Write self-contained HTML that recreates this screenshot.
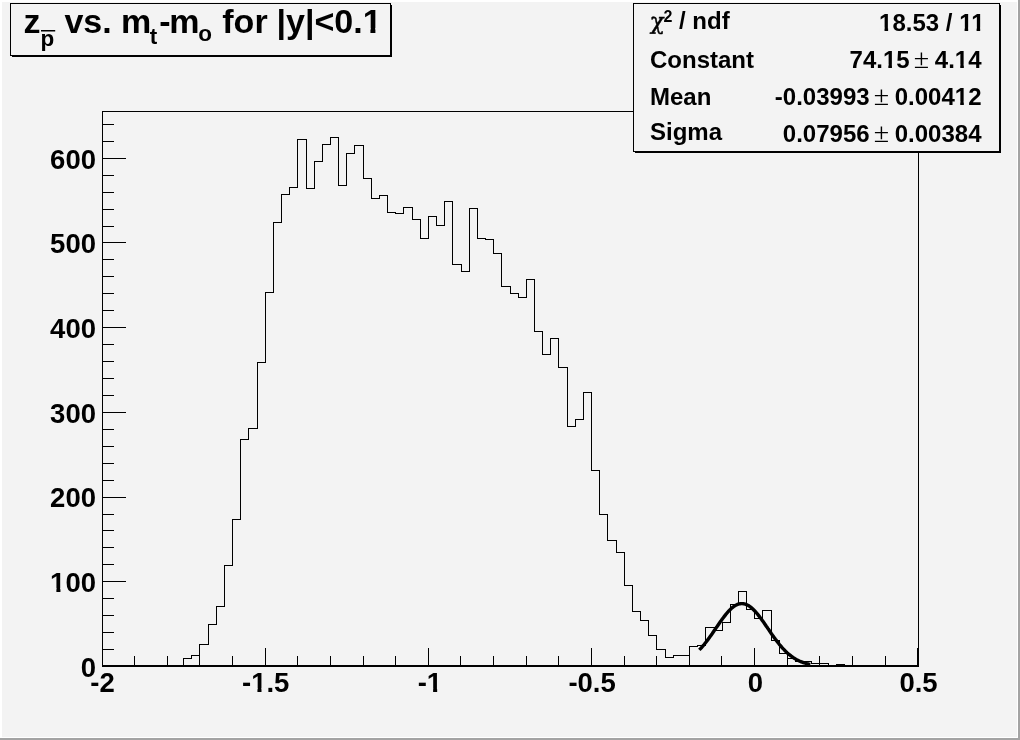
<!DOCTYPE html>
<html><head><meta charset="utf-8"><title>z_pbar vs. mt-mo for |y|&lt;0.1</title>
<style>
html,body{margin:0;padding:0;background:#f3f3f3;}
body{width:1020px;height:740px;overflow:hidden;}
svg{display:block;will-change:transform;font-family:"Liberation Sans",sans-serif;font-weight:bold;fill:#000;}
.sym{font-family:"DejaVu Serif","Liberation Serif",serif;font-weight:normal;}
.pm{font-family:"Liberation Serif",serif;font-weight:normal;}
</style></head><body>
<svg width="1020" height="740" viewBox="0 0 1020 740">
<!-- canvas with bevel border -->
<rect x="0" y="0" width="1020" height="740" fill="#f3f3f3"/>
<g shape-rendering="crispEdges">
<rect x="0" y="0" width="1020" height="2" fill="#ffffff"/>
<rect x="0" y="0" width="2" height="740" fill="#ffffff"/>
<rect x="0" y="737" width="1018" height="1" fill="#ffffff"/>
<rect x="1017" y="0" width="1" height="738" fill="#ffffff"/>
<rect x="0" y="738" width="1020" height="2" fill="#a3a3a3"/>
<rect x="1018" y="0" width="2" height="740" fill="#a3a3a3"/>
</g>

<!-- frame -->
<g shape-rendering="crispEdges" stroke="#000" stroke-width="1" fill="none">
<line x1="102.5" y1="111" x2="102.5" y2="667"/>
<line x1="918.5" y1="111" x2="918.5" y2="667"/>
<line x1="102" y1="111.5" x2="919" y2="111.5"/>
<line x1="102" y1="666" x2="919" y2="666" stroke-width="2"/>
<line x1="102.5" y1="665" x2="102.5" y2="648"/>
<line x1="134.5" y1="665" x2="134.5" y2="656"/>
<line x1="167.5" y1="665" x2="167.5" y2="656"/>
<line x1="199.5" y1="665" x2="199.5" y2="656"/>
<line x1="232.5" y1="665" x2="232.5" y2="656"/>
<line x1="265.5" y1="665" x2="265.5" y2="648"/>
<line x1="297.5" y1="665" x2="297.5" y2="656"/>
<line x1="330.5" y1="665" x2="330.5" y2="656"/>
<line x1="363.5" y1="665" x2="363.5" y2="656"/>
<line x1="395.5" y1="665" x2="395.5" y2="656"/>
<line x1="428.5" y1="665" x2="428.5" y2="648"/>
<line x1="460.5" y1="665" x2="460.5" y2="656"/>
<line x1="493.5" y1="665" x2="493.5" y2="656"/>
<line x1="526.5" y1="665" x2="526.5" y2="656"/>
<line x1="558.5" y1="665" x2="558.5" y2="656"/>
<line x1="591.5" y1="665" x2="591.5" y2="648"/>
<line x1="624.5" y1="665" x2="624.5" y2="656"/>
<line x1="656.5" y1="665" x2="656.5" y2="656"/>
<line x1="689.5" y1="665" x2="689.5" y2="656"/>
<line x1="721.5" y1="665" x2="721.5" y2="656"/>
<line x1="754.5" y1="665" x2="754.5" y2="648"/>
<line x1="787.5" y1="665" x2="787.5" y2="656"/>
<line x1="819.5" y1="665" x2="819.5" y2="656"/>
<line x1="852.5" y1="665" x2="852.5" y2="656"/>
<line x1="885.5" y1="665" x2="885.5" y2="656"/>
<line x1="917.5" y1="665" x2="917.5" y2="648"/>
<line x1="102" y1="666.5" x2="126" y2="666.5"/>
<line x1="102" y1="649.5" x2="114" y2="649.5"/>
<line x1="102" y1="632.5" x2="114" y2="632.5"/>
<line x1="102" y1="615.5" x2="114" y2="615.5"/>
<line x1="102" y1="598.5" x2="114" y2="598.5"/>
<line x1="102" y1="581.5" x2="126" y2="581.5"/>
<line x1="102" y1="564.5" x2="114" y2="564.5"/>
<line x1="102" y1="547.5" x2="114" y2="547.5"/>
<line x1="102" y1="530.5" x2="114" y2="530.5"/>
<line x1="102" y1="514.5" x2="114" y2="514.5"/>
<line x1="102" y1="497.5" x2="126" y2="497.5"/>
<line x1="102" y1="480.5" x2="114" y2="480.5"/>
<line x1="102" y1="463.5" x2="114" y2="463.5"/>
<line x1="102" y1="446.5" x2="114" y2="446.5"/>
<line x1="102" y1="429.5" x2="114" y2="429.5"/>
<line x1="102" y1="412.5" x2="126" y2="412.5"/>
<line x1="102" y1="395.5" x2="114" y2="395.5"/>
<line x1="102" y1="378.5" x2="114" y2="378.5"/>
<line x1="102" y1="361.5" x2="114" y2="361.5"/>
<line x1="102" y1="344.5" x2="114" y2="344.5"/>
<line x1="102" y1="327.5" x2="126" y2="327.5"/>
<line x1="102" y1="310.5" x2="114" y2="310.5"/>
<line x1="102" y1="293.5" x2="114" y2="293.5"/>
<line x1="102" y1="276.5" x2="114" y2="276.5"/>
<line x1="102" y1="259.5" x2="114" y2="259.5"/>
<line x1="102" y1="242.5" x2="126" y2="242.5"/>
<line x1="102" y1="226.5" x2="114" y2="226.5"/>
<line x1="102" y1="209.5" x2="114" y2="209.5"/>
<line x1="102" y1="192.5" x2="114" y2="192.5"/>
<line x1="102" y1="175.5" x2="114" y2="175.5"/>
<line x1="102" y1="158.5" x2="126" y2="158.5"/>
<line x1="102" y1="141.5" x2="114" y2="141.5"/>
<line x1="102" y1="124.5" x2="114" y2="124.5"/>
<polyline points="183.5,665.5 183.5,658.5 191.5,658.5 191.5,655.5 199.5,655.5 199.5,644.5 208.5,644.5 208.5,624.5 216.5,624.5 216.5,606.5 224.5,606.5 224.5,565.5 232.5,565.5 232.5,519.5 240.5,519.5 240.5,439.5 248.5,439.5 248.5,428.5 257.5,428.5 257.5,362.5 265.5,362.5 265.5,292.5 273.5,292.5 273.5,222.5 281.5,222.5 281.5,194.5 289.5,194.5 289.5,187.5 297.5,187.5 297.5,139.5 306.5,139.5 306.5,188.5 314.5,188.5 314.5,161.5 322.5,161.5 322.5,144.5 330.5,144.5 330.5,137.5 338.5,137.5 338.5,185.5 346.5,185.5 346.5,153.5 354.5,153.5 354.5,145.5 363.5,145.5 363.5,178.5 371.5,178.5 371.5,198.5 379.5,198.5 379.5,195.5 387.5,195.5 387.5,212.5 395.5,212.5 395.5,213.5 403.5,213.5 403.5,207.5 412.5,207.5 412.5,219.5 420.5,219.5 420.5,238.5 428.5,238.5 428.5,216.5 436.5,216.5 436.5,225.5 444.5,225.5 444.5,201.5 452.5,201.5 452.5,264.5 461.5,264.5 461.5,271.5 469.5,271.5 469.5,208.5 477.5,208.5 477.5,238.5 485.5,238.5 485.5,239.5 493.5,239.5 493.5,253.5 501.5,253.5 501.5,286.5 510.5,286.5 510.5,293.5 518.5,293.5 518.5,297.5 526.5,297.5 526.5,279.5 534.5,279.5 534.5,331.5 542.5,331.5 542.5,354.5 550.5,354.5 550.5,338.5 558.5,338.5 558.5,367.5 567.5,367.5 567.5,426.5 575.5,426.5 575.5,419.5 583.5,419.5 583.5,392.5 591.5,392.5 591.5,470.5 599.5,470.5 599.5,514.5 607.5,514.5 607.5,540.5 616.5,540.5 616.5,552.5 624.5,552.5 624.5,585.5 632.5,585.5 632.5,611.5 640.5,611.5 640.5,620.5 648.5,620.5 648.5,635.5 656.5,635.5 656.5,649.5 665.5,649.5 665.5,657.5 673.5,657.5 673.5,655.5 681.5,655.5 681.5,655.5 689.5,655.5 689.5,646.5 697.5,646.5 697.5,645.5 705.5,645.5 705.5,627.5 714.5,627.5 714.5,630.5 722.5,630.5 722.5,622.5 730.5,622.5 730.5,604.5 738.5,604.5 738.5,591.5 746.5,591.5 746.5,609.5 754.5,609.5 754.5,618.5 762.5,618.5 762.5,610.5 771.5,610.5 771.5,640.5 779.5,640.5 779.5,653.5 787.5,653.5 787.5,658.5 795.5,658.5 795.5,661.5 803.5,661.5 803.5,661.5 811.5,661.5 811.5,663.5 820.5,663.5 820.5,663.5 828.5,663.5 828.5,665.5 836.5,665.5 836.5,664.5 844.5,664.5"/>
</g>
<polyline points="699.3,649.9 700.3,648.9 701.3,647.8 702.3,646.6 703.3,645.5 704.3,644.3 705.3,643.0 706.3,641.7 707.3,640.4 708.3,639.1 709.3,637.7 710.3,636.3 711.3,634.9 712.3,633.5 713.3,632.0 714.3,630.5 715.3,629.1 716.3,627.6 717.3,626.2 718.3,624.7 719.3,623.2 720.3,621.8 721.3,620.4 722.3,619.0 723.3,617.7 724.3,616.4 725.3,615.1 726.3,613.8 727.3,612.7 728.3,611.5 729.3,610.5 730.3,609.5 731.3,608.5 732.3,607.7 733.3,606.9 734.3,606.2 735.3,605.5 736.3,605.0 737.3,604.5 738.3,604.2 739.3,603.9 740.3,603.7 741.3,603.6 742.3,603.6 743.3,603.7 744.3,603.9 745.3,604.2 746.3,604.5 747.3,605.0 748.3,605.5 749.3,606.2 750.3,606.9 751.3,607.7 752.3,608.5 753.3,609.5 754.3,610.5 755.3,611.5 756.3,612.7 757.3,613.8 758.3,615.1 759.3,616.4 760.3,617.7 761.3,619.0 762.3,620.4 763.3,621.8 764.3,623.2 765.3,624.7 766.3,626.2 767.3,627.6 768.3,629.1 769.3,630.5 770.3,632.0 771.3,633.5 772.3,634.9 773.3,636.3 774.3,637.7 775.3,639.1 776.3,640.4 777.3,641.7 778.3,643.0 779.3,644.3 780.3,645.5 781.3,646.6 782.3,647.8 783.3,648.9 784.3,649.9 785.3,651.0 786.3,651.9 787.3,652.9 788.3,653.8 789.3,654.6 790.3,655.4 791.3,656.2 792.3,656.9 793.3,657.6 794.3,658.3 795.3,658.9 796.3,659.5 797.3,660.0 798.3,660.5 799.3,661.0 800.3,661.4 801.3,661.8 802.3,662.2 803.3,662.6 804.3,662.9 805.3,663.2 806.3,663.5 807.3,663.8 808.3,664.0 809.3,664.3 810.3,664.5" fill="none" stroke="#000" stroke-width="3.4" stroke-linejoin="round"/>

<!-- axis labels -->
<g font-size="27.5px">
<text x="102.5" y="692.2" text-anchor="middle">-2</text>
<text x="265.7" y="692.2" text-anchor="middle">-1.5</text>
<text x="429.9" y="692.2" text-anchor="middle">-1</text>
<text x="592.1" y="692.2" text-anchor="middle">-0.5</text>
<text x="755.3" y="692.2" text-anchor="middle">0</text>
<text x="918.5" y="692.2" text-anchor="middle">0.5</text>
<text x="96" y="676.8" text-anchor="end">0</text>
<text x="96" y="592.1" text-anchor="end">100</text>
<text x="96" y="507.4" text-anchor="end">200</text>
<text x="96" y="422.7" text-anchor="end">300</text>
<text x="96" y="338.0" text-anchor="end">400</text>
<text x="96" y="253.3" text-anchor="end">500</text>
<text x="96" y="168.6" text-anchor="end">600</text>
</g>

<!-- title box -->
<g shape-rendering="crispEdges">
<rect x="10.5" y="3.5" width="380" height="52" fill="#f3f3f3" stroke="#000" stroke-width="1"/>
<rect x="391" y="5" width="1" height="52" fill="#000"/>
<rect x="12" y="56" width="380" height="1" fill="#000"/>
</g>
<g font-size="34px">
<text x="23.4" y="32.6">z</text>
<text x="40.6" y="45.7" font-size="22.5px">p</text>
<text x="64.4" y="32.6">vs.</text>
<text x="120.9" y="32.6">m</text>
<text x="149.7" y="43.5" font-size="22.5px">t</text>
<text x="159.3" y="32.6">-</text>
<text x="169.3" y="32.6">m</text>
<text x="198.3" y="40.5" font-size="22.5px">o</text>
<text x="222.3" y="32.6">for</text>
<text x="276.5" y="32.6">|y|&lt;0.1</text>
</g>
<rect x="41" y="30" width="14.2" height="1.5" fill="#000"/>

<!-- stats box -->
<g shape-rendering="crispEdges">
<rect x="633.5" y="3.5" width="366" height="148" fill="#f3f3f3" stroke="#000" stroke-width="1"/>
<rect x="1000" y="5" width="1" height="148" fill="#000"/>
<rect x="635" y="152" width="366" height="1" fill="#000"/>
</g>
<g font-size="24px">
<text x="650" y="28.9" class="sym" font-size="23px" stroke="#000" stroke-width="0.45" transform="translate(650,28.9) skewX(-5) translate(-650,-28.9)">χ</text>
<text x="663.6" y="21.9" font-size="16px">2</text>
<text x="679" y="29.3">/ ndf</text>
<text x="650" y="68.0">Constant</text>
<text x="650" y="104.5">Mean</text>
<text x="650" y="139.5">Sigma</text>
<text x="984.5" y="31.2" text-anchor="end">18.53 / 11</text>
<text x="981.5" y="68.0" text-anchor="end">4.14</text>
<text x="921.5" y="68.0" text-anchor="middle" class="pm" font-size="28px">±</text>
<text x="909.6" y="68.0" text-anchor="end">74.15</text>
<text x="981.5" y="105.0" text-anchor="end">0.00412</text>
<text x="881.5" y="105.0" text-anchor="middle" class="pm" font-size="28px">±</text>
<text x="869.6" y="105.0" text-anchor="end">-0.03993</text>
<text x="981.5" y="142.0" text-anchor="end">0.00384</text>
<text x="881.5" y="142.0" text-anchor="middle" class="pm" font-size="28px">±</text>
<text x="869.6" y="142.0" text-anchor="end">0.07956</text>
</g>
<g fill="#f3f3f3">
<rect x="251.71" y="688.30" width="5.72" height="4.71"/>
<rect x="261.50" y="688.30" width="5.20" height="4.71"/>
<rect x="427.38" y="688.30" width="5.72" height="4.71"/>
<rect x="437.17" y="688.30" width="5.20" height="4.71"/>
<rect x="50.66" y="588.19" width="5.72" height="4.71"/>
<rect x="60.45" y="588.19" width="5.20" height="4.71"/>
<rect x="363.32" y="28.03" width="7.11" height="5.37"/>
<rect x="375.39" y="28.03" width="6.46" height="5.37"/>
<rect x="879.54" y="27.65" width="4.97" height="4.35"/>
<rect x="888.11" y="27.65" width="4.52" height="4.35"/>
<rect x="959.61" y="27.65" width="4.97" height="4.35"/>
<rect x="968.17" y="27.65" width="4.52" height="4.35"/>
<rect x="971.62" y="27.65" width="4.97" height="4.35"/>
<rect x="980.19" y="27.65" width="4.52" height="4.35"/>
<rect x="955.28" y="64.45" width="4.97" height="4.35"/>
<rect x="963.84" y="64.45" width="4.52" height="4.35"/>
<rect x="883.38" y="64.45" width="4.97" height="4.35"/>
<rect x="891.94" y="64.45" width="4.52" height="4.35"/>
<rect x="955.26" y="101.45" width="4.97" height="4.35"/>
<rect x="963.83" y="101.45" width="4.52" height="4.35"/>
</g>
</svg>
</body></html>
